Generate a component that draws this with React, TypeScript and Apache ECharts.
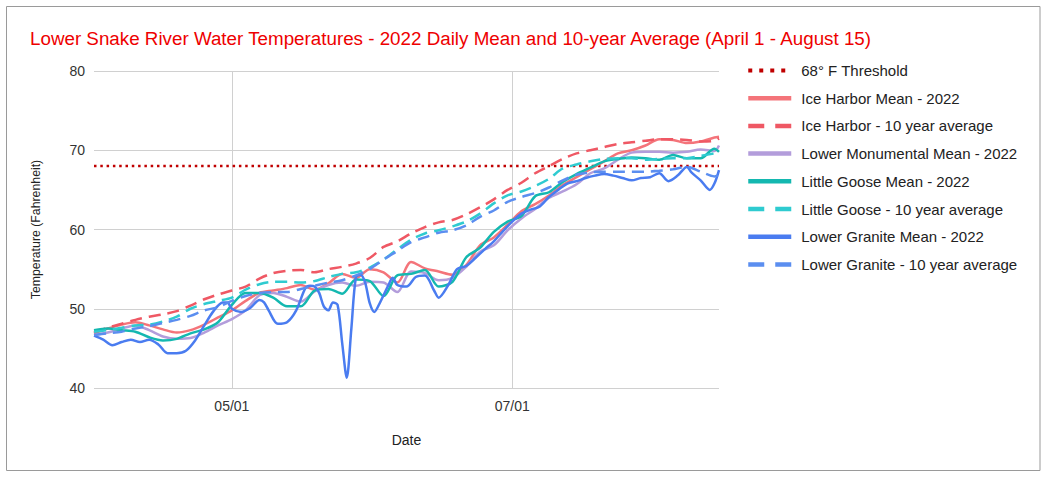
import React, { useEffect, useRef } from "react";
import * as echarts from "echarts";

// Days counted from April 1, 2022 (day 0) to August 15 (day 136)
const sampleDays = [
  0, 3, 6, 9, 12, 15, 18, 21, 24, 27,
  30, 33, 36, 39, 42, 45, 48, 51, 54, 57,
  60, 63, 66, 69, 72, 75, 78, 81, 84, 87,
  90, 93, 96, 99, 102, 105, 108, 111, 114, 117,
  120, 123, 126, 129, 132, 135, 136,
];

const thresholdDays = [0, 136];
const thresholdValues = [68, 68];

const iceHarborMean = [
  46.9, 47.5, 48.0, 48.3, 47.9, 47.4, 47.0, 47.3, 48.0, 48.9,
  49.8, 51.0, 52.0, 52.3, 52.6, 53.0, 52.4, 53.2, 54.4, 53.9,
  55.0, 54.6, 53.3, 55.9, 55.1, 54.7, 54.3, 55.5, 58.0, 59.0,
  60.6, 62.3, 63.2, 64.3, 65.6, 66.6, 67.6, 68.6, 69.6, 70.0,
  70.6, 71.4, 71.3, 70.9, 71.1, 71.6, 71.7,
];

const iceHarborAvg = [
  47.0, 47.6, 48.1, 48.6, 49.0, 49.3, 49.7, 50.4, 51.2, 51.8,
  52.3, 52.8, 53.8, 54.5, 54.8, 54.9, 54.6, 55.0, 55.3, 55.7,
  56.4, 57.8, 58.5, 59.5, 60.3, 60.9, 61.2, 61.9, 62.8, 63.8,
  65.0, 65.9, 67.1, 68.0, 68.9, 69.6, 70.0, 70.4, 70.8, 71.0,
  71.2, 71.4, 71.4, 71.3, 71.1, 71.2, 71.5,
];

const lowerMonumentalMean = [
  46.7, 47.0, 47.5, 47.9, 47.3, 46.5, 46.2, 46.3, 47.0, 47.9,
  48.7, 49.8, 51.7, 52.0, 51.5, 50.9, 52.2, 53.0, 53.3, 52.9,
  53.4, 53.3, 52.1, 54.7, 54.5, 53.6, 53.9, 55.3, 57.2, 58.0,
  59.9, 61.4, 62.6, 64.0, 64.8, 65.7, 67.1, 67.7, 68.8, 69.7,
  69.8, 69.8, 69.7, 69.8, 70.1, 69.9, 70.6,
];

const littleGooseMean = [
  47.3, 47.5, 47.3, 47.1, 46.4, 46.0, 46.2, 46.9, 47.4, 48.3,
  50.5, 52.0, 52.0, 51.4, 50.3, 50.3, 52.3, 52.5, 51.9, 53.7,
  53.5, 51.6, 54.2, 54.4, 54.9, 52.8, 53.4, 56.5, 57.7, 59.7,
  61.0, 61.7, 64.2, 64.7, 66.0, 67.0, 67.8, 68.6, 68.9, 69.1,
  69.0, 68.8, 69.4, 69.0, 69.0, 70.2, 69.8,
];

const littleGooseAvg = [
  47.1, 47.3, 47.6, 47.9, 48.0, 48.4, 49.0, 50.0, 50.6, 51.0,
  51.4, 52.4, 53.1, 53.4, 53.4, 53.3, 53.5, 54.0, 54.4, 54.6,
  55.2, 56.2, 57.5, 58.7, 59.5, 59.9, 60.4, 61.0, 62.0, 63.3,
  64.3, 64.8, 65.5, 66.4, 67.7, 68.2, 68.6, 68.9, 69.0, 69.0,
  68.8, 68.9, 69.0, 69.0, 69.3, 69.6, 69.7,
];

const lowerGraniteAvg = [
  46.7, 46.9, 47.1, 47.5, 47.8, 48.2, 48.6, 49.1, 49.8, 50.2,
  51.0, 51.6, 52.0, 52.1, 52.1, 52.5, 52.9, 53.3, 53.6, 54.2,
  55.0, 56.2, 57.3, 58.4, 59.0, 59.6, 59.9, 60.5, 61.6, 62.4,
  63.5, 64.1, 64.6, 65.3, 66.2, 66.9, 67.2, 67.3, 67.3, 67.3,
  67.3, 67.4, 67.6, 67.9, 67.3, 66.7, 66.9,
];

const lowerGraniteDays = [
  0, 2, 4, 6, 8, 10, 12, 14, 16, 18,
  20, 22, 24, 26, 28, 29, 30, 32, 34, 36,
  37, 38, 40, 42, 44, 46, 47, 48, 49, 50,
  51, 52, 53, 54, 55, 56, 57, 58, 59, 60,
  61, 62, 64, 65, 66, 68, 70, 72, 74, 75,
  77, 79, 81, 83, 85, 87, 89, 91, 93, 95,
  97, 99, 101, 103, 105, 107, 109, 111, 113, 115,
  117, 119, 121, 123, 125, 127, 129, 130, 132, 134,
  135, 136,
];
const lowerGraniteMean = [
  46.6, 46.1, 45.4, 45.8, 46.1, 45.8, 46.1, 45.5, 44.4, 44.4,
  44.7, 46.0, 47.9, 49.7, 50.8, 50.8, 50.0, 49.6, 50.1, 51.1,
  50.8, 49.8, 48.1, 48.3, 49.8, 52.6, 52.9, 52.8, 52.0, 50.3,
  49.8, 50.8, 50.5, 45.7, 41.3, 47.5, 54.0, 54.3, 53.3, 50.7,
  49.6, 50.5, 52.9, 53.9, 53.0, 52.8, 54.0, 54.2, 52.3, 51.4,
  52.9, 55.0, 55.4, 56.4, 57.5, 58.5, 59.8, 61.0, 62.0, 62.5,
  62.9, 64.1, 65.0, 65.8, 66.1, 66.5, 66.8, 67.0, 66.8, 66.5,
  66.2, 66.5, 66.6, 67.1, 66.1, 66.8, 67.9, 67.2, 66.2, 65.0,
  65.8, 67.5,
];

const xTickDays = [30, 91];
const yTicks = { min: 40, max: 80, interval: 10 };

const FONT = "'Liberation Sans', Arial, sans-serif";

const pair = (days: number[], vals: number[]) => days.map((d, i) => [d, vals[i]]);

const dayLabel = (d: number) => {
  const dt = new Date(2022, 3, 1 + Math.round(d));
  const mm = String(dt.getMonth() + 1).padStart(2, "0");
  const dd = String(dt.getDate()).padStart(2, "0");
  return `${mm}/${dd}`;
};

const SOLID_W = 2.5;
const DASH = [12, 7];

export default function App() {
  const ref = useRef<HTMLDivElement>(null);

  useEffect(() => {
    if (!ref.current) return;
    const chart = echarts.init(ref.current, undefined, { renderer: "svg" });

    const mk = (
      name: string,
      days: number[],
      vals: number[],
      color: string,
      type: any,
      width = SOLID_W,
      smooth: number | boolean = 0.3
    ) => ({
      name,
      type: "line",
      data: pair(days, vals),
      symbol: "none",
      smooth,
      lineStyle: { color, width, type },
      itemStyle: { color },
    });

    const series = [
      mk("68° F Threshold", thresholdDays, thresholdValues, "#c00000", [2.5, 3.8], 2.5, false),
      mk("Ice Harbor Mean - 2022", sampleDays, iceHarborMean, "#f4747a", "solid"),
      mk("Ice Harbor - 10 year average", sampleDays, iceHarborAvg, "#ef5864", DASH),
      mk("Lower Monumental Mean - 2022", sampleDays, lowerMonumentalMean, "#b39ddb", "solid"),
      mk("Little Goose Mean - 2022", sampleDays, littleGooseMean, "#14b8b0", "solid"),
      mk("Little Goose - 10 year average", sampleDays, littleGooseAvg, "#2fcbd0", DASH),
      mk("Lower Granite Mean - 2022", lowerGraniteDays, lowerGraniteMean, "#4a7cf0", "solid"),
      mk("Lower Granite - 10 year average", sampleDays, lowerGraniteAvg, "#5b8ef0", DASH),
    ];

    const legendData = series.map((s: any, i: number) => ({
      name: s.name,
      itemStyle: { opacity: 0 },
      lineStyle: {
        width: i === 0 ? 4 : 4.5,
        type: i === 0 ? [4, 7] : Array.isArray(s.lineStyle.type) ? [16, 11] : "solid",
      },
    }));

    chart.setOption({
      animation: false,
      textStyle: { fontFamily: FONT },
      title: {
        text: "Lower Snake River Water Temperatures - 2022 Daily Mean and 10-year Average (April 1 - August 15)",
        left: 25,
        top: 24,
        textStyle: { color: "#ee0000", fontSize: 18.8, fontWeight: "normal", fontFamily: FONT },
      },
      grid: { left: 94, right: 329, top: 71, bottom: 90, containLabel: false },
      legend: {
        orient: "vertical",
        left: 741,
        top: 58,
        itemWidth: 43,
        itemHeight: 14,
        itemGap: 12.7,
        data: legendData,
        textStyle: { fontSize: 15, color: "#222", fontFamily: FONT, padding: [0, 0, 0, 5] },
      },
      xAxis: {
        type: "value",
        min: 0,
        max: 136,
        name: "Date",
        nameLocation: "middle",
        nameGap: 45,
        nameTextStyle: { fontSize: 14, color: "#222", fontFamily: FONT },
        axisLine: { show: false },
        axisTick: { show: false, customValues: xTickDays },
        axisLabel: {
          customValues: xTickDays,
          formatter: (v: number) => dayLabel(v),
          fontSize: 14,
          color: "#333",
          margin: 11,
          fontFamily: FONT,
        },
        splitLine: { show: true, lineStyle: { color: "#d0d0d0", width: 1 } },
      },
      yAxis: {
        type: "value",
        min: yTicks.min,
        max: yTicks.max,
        interval: yTicks.interval,
        name: "Temperature (Fahrenheit)",
        nameLocation: "middle",
        nameGap: 52,
        nameTextStyle: { fontSize: 12.3, color: "#222", fontFamily: FONT },
        axisLine: { show: false },
        axisTick: { show: false },
        axisLabel: { fontSize: 14, color: "#333", margin: 9, fontFamily: FONT },
        splitLine: { show: true, lineStyle: { color: "#d0d0d0", width: 1 } },
      },
      graphic: [
        {
          type: "rect",
          shape: { x: 6.5, y: 6.5, width: 1033.5, height: 464 },
          style: { fill: "none", stroke: "#9a9a9a", lineWidth: 1 },
          silent: true,
        },
      ],
      series,
    });

    return () => chart.dispose();
  }, []);

  return (
    <div
      ref={ref}
      style={{ position: "fixed", left: 0, top: 0, width: 1048, height: 478, background: "#fff" }}
    />
  );
}
